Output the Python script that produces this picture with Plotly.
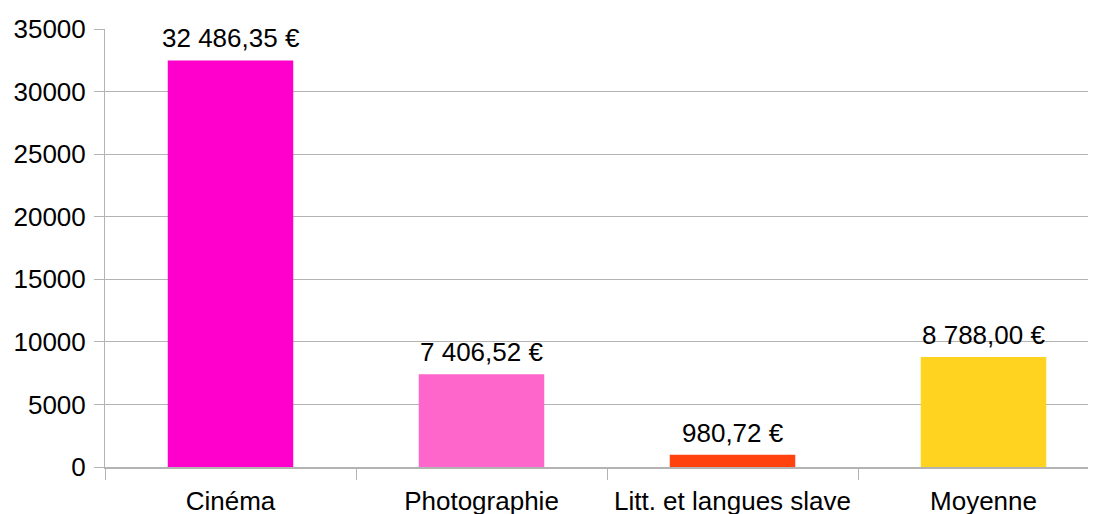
import plotly.graph_objects as go

categories = ["Cinéma", "Photographie", "Litt. et langues slave", "Moyenne"]
values = [32486.35, 7406.52, 980.72, 8788.00]
colors = ["#FF00CC", "#FF66CC", "#FF420E", "#FFD320"]
y_ticks = [0, 5000, 10000, 15000, 20000, 25000, 30000, 35000]


def fr_euro(v):
    s = f"{v:,.2f}"
    s = s.replace(",", " ").replace(".", ",")
    return s + " €"


labels = [fr_euro(v) for v in values]
FONT = "Liberation Sans, Arial, sans-serif"

fig = go.Figure(
    go.Bar(
        x=categories,
        y=values,
        marker=dict(color=colors, line=dict(width=0)),
        width=0.5,
        hoverinfo="x+y",
    )
)

for c, v, t in zip(categories, values, labels):
    fig.add_annotation(
        x=c, y=v, text=t, showarrow=False,
        xanchor="center", yanchor="bottom", yshift=5,
        font=dict(family=FONT, size=26, color="#000000"),
    )

fig.update_layout(
    width=1088,
    height=506,
    margin=dict(l=97, r=0, t=21, b=47, autoexpand=False),
    paper_bgcolor="white",
    plot_bgcolor="white",
    showlegend=False,
    font=dict(family=FONT, size=26, color="#000000"),
)

fig.update_xaxes(
    range=[-0.5, 3.5 - 13 / 251],
    automargin=False,
    showgrid=False,
    showline=True,
    linecolor="#b3b3b3",
    linewidth=2,
    ticks="outside",
    tickson="boundaries",
    ticklen=11,
    tickcolor="#b3b3b3",
    tickwidth=1,
    ticklabelstandoff=10,
    tickfont=dict(family=FONT, size=26, color="#000000"),
)

fig.update_yaxes(
    range=[0, 35000],
    automargin=False,
    tickvals=y_ticks,
    ticktext=[str(t) for t in y_ticks],
    showgrid=True,
    gridcolor="#b3b3b3",
    gridwidth=1,
    zeroline=False,
    showline=True,
    linecolor="#b3b3b3",
    linewidth=1,
    ticks="outside",
    ticklen=10,
    tickcolor="#b3b3b3",
    ticklabelstandoff=3,
    tickfont=dict(family=FONT, size=26, color="#000000"),
)

fig.write_html("out.html")
